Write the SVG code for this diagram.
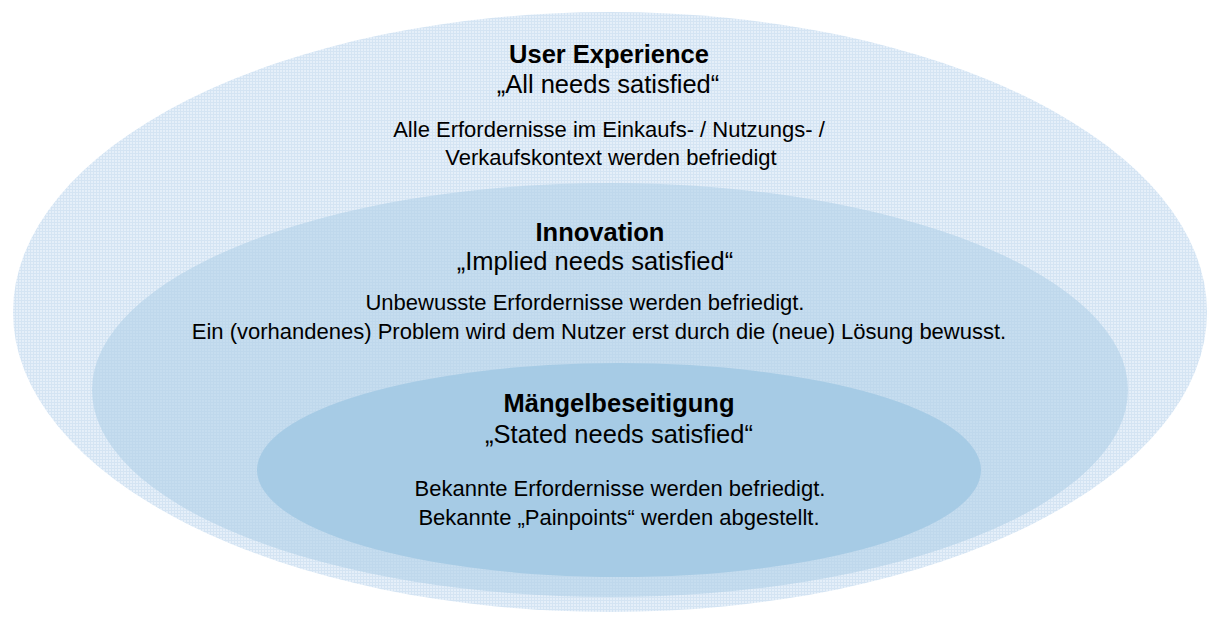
<svg xmlns="http://www.w3.org/2000/svg" width="1208" height="617" viewBox="0 0 1208 617">
  <defs>
    <pattern id="grid" width="3" height="3" patternUnits="userSpaceOnUse">
      <rect width="3" height="3" fill="#e5eff9"/>
      <rect width="3" height="1" fill="#d4e4f3"/>
      <rect width="1" height="3" fill="#d4e4f3"/>
    </pattern>
    <pattern id="grid2" width="3" height="3" patternUnits="userSpaceOnUse">
      <rect width="3" height="3" fill="#c6ddef"/>
      <rect width="3" height="1" fill="#bfd8ec"/>
      <rect width="1" height="3" fill="#bfd8ec"/>
    </pattern>
    <style>
      text { font-family: "Liberation Sans", Arial, sans-serif; fill: #000; text-anchor: middle; }
      .t { font-size: 25.5px; font-weight: bold; }
      .s { font-size: 25.5px; }
      .b { font-size: 22px; }
    </style>
  </defs>
  <rect width="1208" height="617" fill="#ffffff"/>
  <g id="user-experience">
    <ellipse cx="610" cy="312" rx="597" ry="300" fill="url(#grid)"/>
    <text class="t" x="609" y="63">User Experience</text>
    <text class="s" x="608" y="93">„All needs satisfied“</text>
    <text class="b" x="609" y="137">Alle Erfordernisse im Einkaufs- / Nutzungs- /</text>
    <text class="b" x="611" y="165">Verkaufskontext werden befriedigt</text>
  </g>
  <g id="innovation">
    <ellipse cx="610" cy="390" rx="518" ry="207" fill="url(#grid2)"/>
    <text class="t" x="600" y="241">Innovation</text>
    <text class="s" x="595" y="270">„Implied needs satisfied“</text>
    <text class="b" x="585" y="310">Unbewusste Erfordernisse werden befriedigt.</text>
    <text class="b" x="599" y="339">Ein (vorhandenes) Problem wird dem Nutzer erst durch die (neue) Lösung bewusst.</text>
  </g>
  <g id="maengelbeseitigung">
    <ellipse cx="619" cy="470" rx="362" ry="107" fill="#a6cbe5"/>
    <text class="t" x="619" y="412">Mängelbeseitigung</text>
    <text class="s" x="619" y="443">„Stated needs satisfied“</text>
    <text class="b" x="620" y="496">Bekannte Erfordernisse werden befriedigt.</text>
    <text class="b" x="619" y="525">Bekannte „Painpoints“ werden abgestellt.</text>
  </g>
  <g id="connectors"/>
</svg>
